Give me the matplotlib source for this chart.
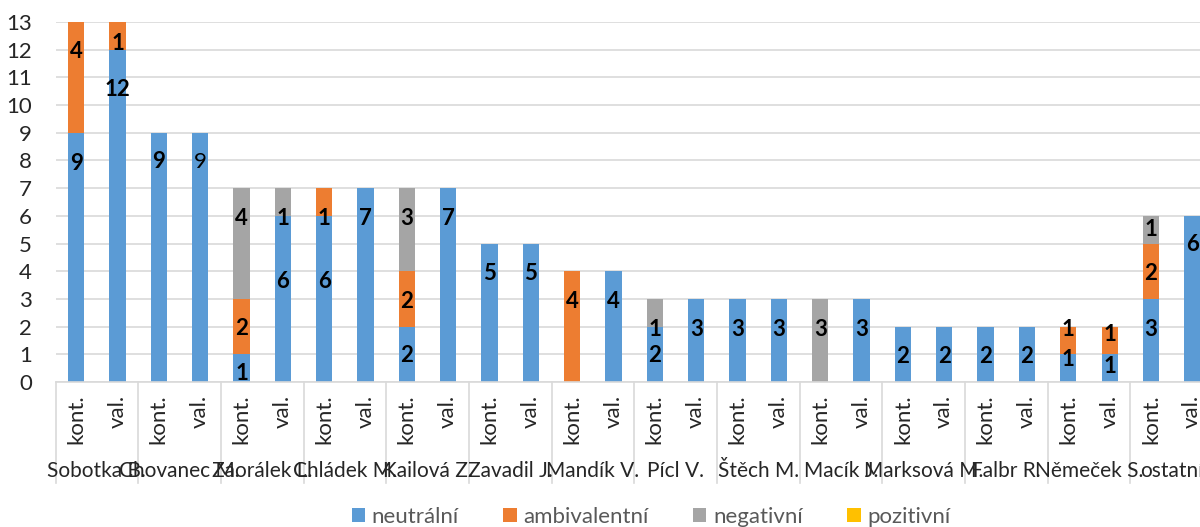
import matplotlib
matplotlib.use("Agg")
import matplotlib.pyplot as plt
from matplotlib.patches import Patch
import matplotlib.transforms as mtransforms
import numpy as np

plt.rcParams['font.family'] = ['Lato', 'DejaVu Sans']

# ---------------- data ----------------
groups = ["Sobotka B.", "Chovanec M.", "Zaorálek L.", "Chládek M.", "Kailová Z.",
          "Zavadil J.", "Mandík V.", "Pícl V.", "Štěch M.", "Macík J.",
          "Marksová M.", "Falbr R.", "Němeček S.", "ostatní"]
subcats = ["kont.", "val."]
series_names = ["neutrální", "ambivalentní", "negativní", "pozitivní"]

neutralni_kont = [9, 9, 1, 6, 2, 5, 0, 2, 3, 0, 2, 2, 1, 3]
neutralni_val = [12, 9, 6, 7, 7, 5, 4, 3, 3, 3, 2, 2, 1, 6]
ambivalentni_kont = [4, 0, 2, 1, 2, 0, 4, 0, 0, 0, 0, 0, 1, 2]
ambivalentni_val = [1, 0, 0, 0, 0, 0, 0, 0, 0, 0, 0, 0, 1, 0]
negativni_kont = [0, 0, 4, 0, 3, 0, 0, 1, 0, 3, 0, 0, 0, 1]
negativni_val = [0, 0, 1, 0, 0, 0, 0, 0, 0, 0, 0, 0, 0, 0]
pozitivni_kont = [0] * 14
pozitivni_val = [0] * 14

# label anchor heights (layout, as placed in the original chart), per slot (kont, val interleaved)
lab_y_neutral = [7.9, 10.55, 7.96, 7.96, 0.32, 3.62, 3.62, 5.92, 0.97, 5.92,
                 3.92, 3.92, None, 2.9, 0.97, 1.88, 1.88, 1.88, None, 1.88,
                 0.92, 0.92, 0.92, 0.92, 0.8, 0.55, 1.88, 4.95]
lab_y_ambiv = {0: 11.93, 1: 12.23, 4: 1.94, 6: 5.92, 8: 2.9, 12: 2.9,
               24: 1.88, 25: 1.7, 26: 3.92}
lab_y_neg = {4: 5.92, 5: 5.92, 8: 5.92, 14: 1.88, 18: 1.88, 26: 5.49}
nonbold_slots = {("neutral", 3)}

colors = ["#5B9BD5", "#ED7D31", "#A5A5A5", "#FFC000"]


def interleave(a, b):
    out = []
    for x, y in zip(a, b):
        out += [x, y]
    return np.array(out, dtype=float)


neu = interleave(neutralni_kont, neutralni_val)
amb = interleave(ambivalentni_kont, ambivalentni_val)
neg = interleave(negativni_kont, negativni_val)
poz = interleave(pozitivni_kont, pozitivni_val)
n = len(neu)
x = np.arange(n)

FS = 16
FS_GROUP = 15

W, H = 1200, 527
fig = plt.figure(figsize=(W / 100, H / 100), dpi=100)
ax_left, ax_right = 55.5, 1212.9
ax_bottom, ax_top = 382, 22
ax = fig.add_axes([ax_left / W, (H - ax_bottom) / H,
                   (ax_right - ax_left) / W, (ax_bottom - ax_top) / H])

bw = 0.39
ax.bar(x, neu, bw, color=colors[0], zorder=2)
ax.bar(x, amb, bw, bottom=neu, color=colors[1], zorder=2)
ax.bar(x, neg, bw, bottom=neu + amb, color=colors[2], zorder=2)
ax.bar(x, poz, bw, bottom=neu + amb + neg, color=colors[3], zorder=2)

ax.set_xlim(-0.5, n - 0.5)
ax.set_ylim(0, 13)
ax.set_yticks(range(0, 14))
ax.yaxis.grid(True, color="#d9d9d9", linewidth=1.2, zorder=0)
ax.set_axisbelow(True)
for s in ["left", "top", "right"]:
    ax.spines[s].set_visible(False)
ax.spines["bottom"].set_color("#d9d9d9")
ax.spines["bottom"].set_linewidth(1.2)
ax.tick_params(axis="y", length=0, pad=17, labelsize=FS, labelcolor="#262626")

ax.set_xticks(x)
ax.set_xticklabels([subcats[i % 2] for i in range(n)], rotation=90,
                   fontsize=FS, color="#262626")
ax.tick_params(axis="x", length=0, pad=9)

# data labels
def put(slot, yv, val, key):
    weight = "normal" if (key, slot) in nonbold_slots else "bold"
    ax.text(slot, yv, f"{int(val)}", ha="center", va="center", fontsize=FS,
            fontweight=weight, color="black", zorder=5, clip_on=False)

for i in range(n):
    if neu[i] > 0 and lab_y_neutral[i] is not None:
        put(i, lab_y_neutral[i], neu[i], "neutral")
    if amb[i] > 0 and i in lab_y_ambiv:
        put(i, lab_y_ambiv[i], amb[i], "amb")
    if neg[i] > 0 and i in lab_y_neg:
        put(i, lab_y_neg[i], neg[i], "neg")

# group separators and group names
trans = mtransforms.blended_transform_factory(ax.transData, ax.transAxes)
sep_bottom = -(483 - ax_bottom) / (ax_bottom - ax_top)
for g in range(len(groups) + 1):
    xs = 2 * g - 0.5
    ax.plot([xs, xs], [0, sep_bottom], transform=trans, color="#d9d9d9",
            linewidth=1.2, clip_on=False, zorder=1)
name_y = -(471 - ax_bottom) / (ax_bottom - ax_top)
for g, name in enumerate(groups):
    ax.text(2 * g + 0.5, name_y, name, transform=trans, ha="center",
            va="center", fontsize=FS_GROUP, color="#262626", clip_on=False)

handles = [Patch(facecolor=c, edgecolor="none") for c in colors]
leg = fig.legend(handles, series_names, loc="center", ncol=4,
                 bbox_to_anchor=(651 / W, 1 - 517 / H), frameon=False,
                 fontsize=FS, handlelength=0.6, handleheight=0.6,
                 handletextpad=0.3, columnspacing=2.0, labelcolor="#595959")

fig.savefig("out.png", dpi=100)
